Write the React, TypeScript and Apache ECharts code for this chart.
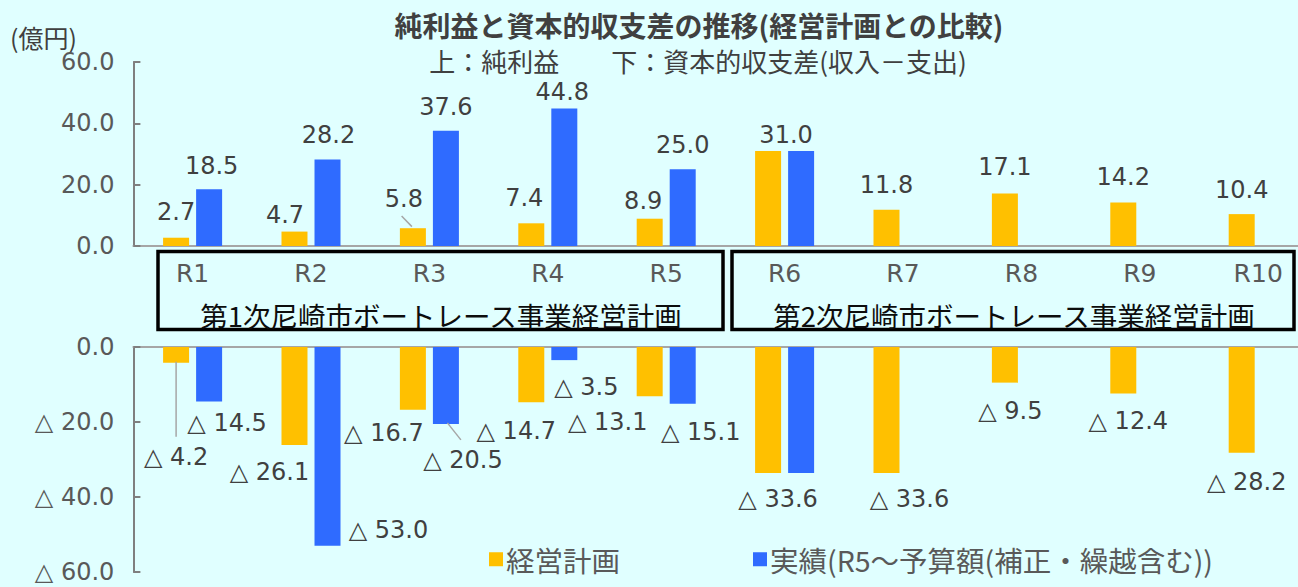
import React, { useEffect, useRef } from "react";
import * as echarts from "echarts";

const categories = ["R1", "R2", "R3", "R4", "R5", "R6", "R7", "R8", "R9", "R10"];
const planProfit = [2.7, 4.7, 5.8, 7.4, 8.9, 31.0, 11.8, 17.1, 14.2, 10.4];
const actualProfit = [18.5, 28.2, 37.6, 44.8, 25.0, 31.0, null, null, null, null];
const planCapital = [-4.2, -26.1, -16.7, -14.7, -13.1, -33.6, -33.6, -9.5, -12.4, -28.2];
const actualCapital = [-14.5, -53.0, -20.5, -3.5, -15.1, -33.6, null, null, null, null];
const yTicksTop = [0, 20, 40, 60];
const yTicksBottom = [-60, -40, -20, 0];
const groupNames = ["第1次尼崎市ボートレース事業経営計画", "第2次尼崎市ボートレース事業経営計画"];
const PLAN = "経営計画";
const ACTUAL = "実績(R5～予算額(補正・繰越含む))";
const TITLE = "純利益と資本的収支差の推移(経営計画との比較)";
const SUBTITLE = "上：純利益　　下：資本的収支差(収入－支出)";
const UNIT = "(億円)";

// label offsets [dx, dy] (styling only)
const offPlanProfit = [[0, -14], [-9.5, -5], [-9, -17], [-7, -13.6], [-6.5, -6], [18, -3.7], [0, -13], [0, -14.5], [0, -13.5], [0, -12.5]];
const offActualProfit = [[2.5, -11], [1, -12.6], [0, -12], [-2, -4.6], [0, -12.7], [0, 0], [0, 0], [0, 0], [0, 0], [0, 0]];
const offPlanCapital = [[0, 82], [-25, 14.7], [-29, 11.3], [-15, 16.8], [-42, 13.5], [10, 13.8], [23, 13.8], [5.5, 16], [5, 15.4], [5, 17.6]];
const offActualCapital = [[18, 9.6], [61, -28], [17, 24], [22, 14.7], [18, 16], [0, 0], [0, 0], [0, 0], [0, 0], [0, 0]];
const hiddenLabels = { actualProfit: [5], actualCapital: [5] };

const ORANGE = "#FFC000";
const BLUE = "#2F6BFF";
const BG = "#E0FFFF";
const FONT_NUM = "'DejaVu Sans', 'Noto Sans CJK JP', sans-serif";
const FONT_JP = "'Noto Sans CJK JP', 'Noto Sans', sans-serif";

export default function App() {
  const ref = useRef<HTMLDivElement>(null);
  useEffect(() => {
    if (!ref.current) return;
    const chart = echarts.init(ref.current, null, { renderer: "svg" });
    const fmtPos = (p: any) => Number(p.value).toFixed(1);
    const fmtNeg = (p: any) => "△ " + Math.abs(Number(p.value)).toFixed(1);
    const labelBase = {
      show: true,
      distance: 0,
      fontSize: 24,
      color: "#404040",
      fontFamily: FONT_NUM,
    };
    const mk = (vals: (number | null)[], offs: number[][], hidden: number[] = []) =>
      vals.map((v, i) =>
        v === null
          ? null
          : { value: v, label: { offset: offs[i], show: hidden.indexOf(i) < 0 } }
      );
    const axisLineY = { show: true, lineStyle: { color: "#7F7F7F", width: 2 } };
    const axisTickY = { show: true, inside: true, length: 7, lineStyle: { color: "#7F7F7F", width: 2 } };
    const yLabel = {
      fontSize: 24,
      color: "#595959",
      fontFamily: FONT_NUM,
      margin: 19,
    };
    const option: any = {
      animation: false,
      backgroundColor: BG,
      legend: {
        data: [PLAN, ACTUAL],
        left: 484,
        top: 540,
        itemWidth: 14,
        itemHeight: 14,
        itemGap: 133,
        icon: "rect",
        selectedMode: false,
        textStyle: { fontSize: 28.5, color: "#595959", fontFamily: FONT_JP, padding: [0, 0, 0, -2] },
      },
      grid: [
        { left: 133.4, width: 1184, top: 62, height: 184 },
        { left: 133.4, width: 1184, top: 347, height: 225 },
      ],
      xAxis: [
        {
          type: "category",
          gridIndex: 0,
          data: categories,
          axisLine: { show: true, lineStyle: { color: "#A6A6A6", width: 2 } },
          axisTick: { show: false },
          axisLabel: { fontSize: 25, color: "#595959", fontFamily: FONT_NUM, margin: 15, interval: 0 },
        },
        {
          type: "category",
          gridIndex: 1,
          data: categories,
          position: "top",
          axisLine: { show: true, lineStyle: { color: "#A6A6A6", width: 2 } },
          axisTick: { show: false },
          axisLabel: { show: false },
        },
      ],
      yAxis: [
        {
          type: "value",
          gridIndex: 0,
          min: yTicksTop[0],
          max: yTicksTop[yTicksTop.length - 1],
          interval: 20,
          axisLine: axisLineY,
          axisTick: axisTickY,
          splitLine: { show: false },
          axisLabel: { ...yLabel, formatter: (v: number) => v.toFixed(1) },
        },
        {
          type: "value",
          gridIndex: 1,
          min: yTicksBottom[0],
          max: yTicksBottom[yTicksBottom.length - 1],
          interval: 20,
          axisLine: axisLineY,
          axisTick: axisTickY,
          splitLine: { show: false },
          axisLabel: {
            ...yLabel,
            formatter: (v: number) => (v === 0 ? "0.0" : "△ " + Math.abs(v).toFixed(1)),
          },
        },
      ],
      series: [
        {
          name: PLAN,
          type: "bar",
          xAxisIndex: 0,
          yAxisIndex: 0,
          barWidth: 26,
          barGap: "27%",
          itemStyle: { color: ORANGE },
          label: { ...labelBase, position: "top", formatter: fmtPos },
          data: mk(planProfit, offPlanProfit),
        },
        {
          name: ACTUAL,
          type: "bar",
          xAxisIndex: 0,
          yAxisIndex: 0,
          barWidth: 26,
          barGap: "27%",
          itemStyle: { color: BLUE },
          label: { ...labelBase, position: "top", formatter: fmtPos },
          data: mk(actualProfit, offActualProfit, hiddenLabels.actualProfit),
        },
        {
          name: PLAN,
          type: "bar",
          xAxisIndex: 1,
          yAxisIndex: 1,
          barWidth: 26,
          barGap: "27%",
          itemStyle: { color: ORANGE },
          label: { ...labelBase, position: "bottom", formatter: fmtNeg },
          data: mk(planCapital, offPlanCapital),
        },
        {
          name: ACTUAL,
          type: "bar",
          xAxisIndex: 1,
          yAxisIndex: 1,
          barWidth: 26,
          barGap: "27%",
          itemStyle: { color: BLUE },
          label: { ...labelBase, position: "bottom", formatter: fmtNeg },
          data: mk(actualCapital, offActualCapital, hiddenLabels.actualCapital),
        },
      ],
    };
    chart.setOption(option);

    // leader lines computed from the library's own scales
    const leaders = [
      { grid: 0, vals: planProfit, idx: 2, side: -1, from: [-1, -1.6], to: [-11.3, -12.3] },
      { grid: 1, vals: planCapital, idx: 0, side: -1, from: [0, -1], to: [0, 74] },
      { grid: 1, vals: actualCapital, idx: 2, side: 1, from: [1.5, -1], to: [15, 16] },
    ];
    const lines = leaders.map((l, k) => {
      const p = chart.convertToPixel(
        { xAxisIndex: l.grid, yAxisIndex: l.grid },
        [l.idx, l.vals[l.idx] as number]
      ) as number[];
      const cx = p[0] + l.side * 16.5;
      return {
        type: "line",
        id: "leader" + k,
        shape: { x1: cx + l.from[0], y1: p[1] + l.from[1], x2: cx + l.to[0], y2: p[1] + l.to[1] },
        style: { stroke: "#A6A6A6", lineWidth: 1.5 },
        z: 10,
      };
    });

    const graphic: any[] = [
      {
        type: "text",
        x: 699,
        y: 24.5,
        style: { text: TITLE, fill: "#404040", font: `bold 28px ${FONT_JP}`, align: "center", verticalAlign: "middle" },
      },
      {
        type: "text",
        x: 698,
        y: 60,
        style: { text: SUBTITLE, fill: "#404040", font: `26px ${FONT_JP}`, align: "center", verticalAlign: "middle" },
      },
      {
        type: "text",
        x: 10,
        y: 36.5,
        style: { text: UNIT, fill: "#404040", font: `25px ${FONT_JP}`, align: "left", verticalAlign: "middle" },
      },
      {
        type: "rect",
        shape: { x: 158, y: 251.5, width: 565, height: 78 },
        style: { fill: "none", stroke: "#000", lineWidth: 3.5 },
      },
      {
        type: "rect",
        shape: { x: 732, y: 251.5, width: 562, height: 78 },
        style: { fill: "none", stroke: "#000", lineWidth: 3.5 },
      },
      {
        type: "text",
        x: 441,
        y: 315,
        style: { text: groupNames[0], fill: "#0D0D0D", font: `27.5px ${FONT_JP}`, align: "center", verticalAlign: "middle" },
      },
      {
        type: "text",
        x: 1014,
        y: 315,
        style: { text: groupNames[1], fill: "#0D0D0D", font: `27.5px ${FONT_JP}`, align: "center", verticalAlign: "middle" },
      },
      ...lines,
    ];
    chart.setOption({ graphic });
    return () => chart.dispose();
  }, []);
  return (
    <div
      style={{ position: "absolute", left: 0, top: 0, width: 1298, height: 587, overflow: "hidden", background: BG }}
    >
      <div ref={ref} style={{ width: 1320, height: 587 }} />
    </div>
  );
}
